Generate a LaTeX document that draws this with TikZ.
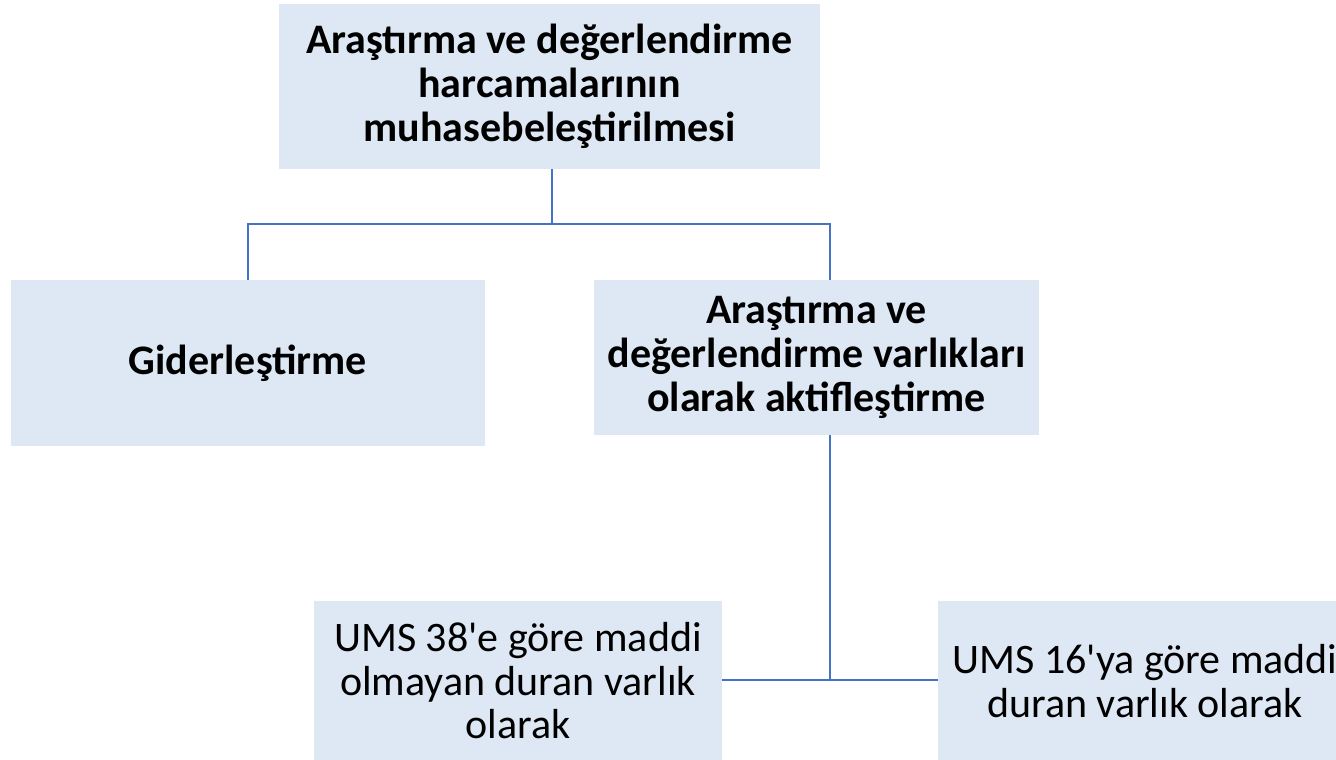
\documentclass[tikz,border=0pt]{standalone}
\usepackage{fontspec}
\newfontfamily\calibri{Carlito}
\usetikzlibrary{positioning}

\definecolor{boxfill}{HTML}{DEE8F4}
\definecolor{linkblue}{HTML}{4472C4}

\tikzset{
    box/.style={rectangle, fill=boxfill, align=center, inner sep=0pt,
        font=\calibri\fontsize{42}{43.5}\selectfont},
    boldbox/.style={box, font=\calibri\fontsize{42}{44}\selectfont\bfseries},
    link/.style={draw=linkblue, line width=1.6pt}
}

\begin{document}
\begin{tikzpicture}[x=1pt, y=-1pt]
    \useasboundingbox (0,0) rectangle (1336,760);
    \fill[white] (0,0) rectangle (1336,760);
    % upper level
    \node[boldbox, minimum width=541, minimum height=165] (kayit) at (549.5,86.5)
        {Araştırma ve değerlendirme\\harcamalarının\\muhasebeleştirilmesi};
    \node[boldbox, minimum width=474, minimum height=166] (gider) at (248,363) {Giderleştirme};
    \node[boldbox, minimum width=445, minimum height=155] (aktif) at (816.5,357.5)
        {Araştırma ve\\ değerlendirme varlıkları\\olarak aktifleştirme};
    % lower level
    \node[box, minimum width=408, minimum height=160] (ums38) at (518,681)
        {UMS 38'e göre maddi\\olmayan duran varlık\\olarak};
    \node[box, minimum width=414, minimum height=160] (ums16) at (1145,681)
        {UMS 16'ya göre maddi\\duran varlık olarak};
    % connectors
    \coordinate (bus) at (552,224);
    \coordinate (aktifin) at (830,280);
    \coordinate (aktifout) at (830,435);
    \coordinate (alt) at (830,680);
    \draw[link] (kayit.south -| bus) -- (bus);
    \draw[link] (gider.north) |- (bus) -| (aktifin);
    \draw[link] (aktifout) -- (alt);
    \draw[link] (ums38.east |- alt) -- (ums16.west |- alt);
\end{tikzpicture}
\end{document}
